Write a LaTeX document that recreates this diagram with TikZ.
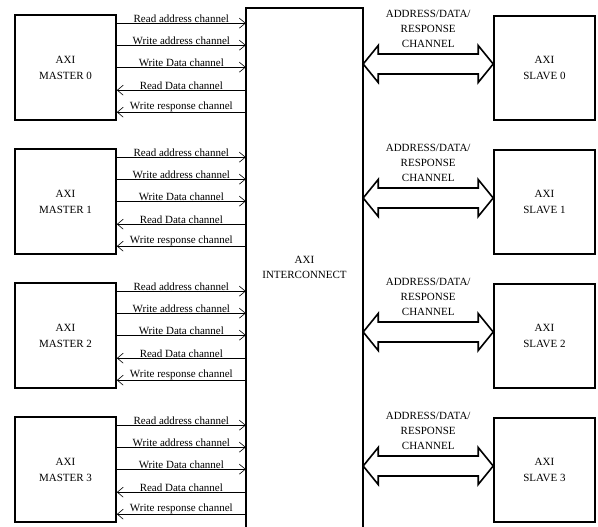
\documentclass[tikz,border=0pt]{standalone}
\usepackage{fontspec}
\setmainfont{Liberation Serif}
\usetikzlibrary{
    arrows.meta,
    calc,
    positioning
}

\tikzset{
    unit/.style={draw, line width=1.6pt, minimum width=101pt, minimum height=105pt,
        inner sep=0pt, align=center, font=\fontsize{11}{16}\selectfont},
    chan/.style={line width=0.6pt},
    chanlabel/.style={above, inner sep=0.5pt, font=\fontsize{11}{13}\selectfont},
    fwd/.style={-{Straight Barb[length=6pt,width=10pt]}},
    bwd/.style={{Straight Barb[length=6pt,width=10pt]}-},
    bus/.style={line width=1.6pt, line join=miter, fill=white},
    buslabel/.style={align=center, inner sep=0pt, font=\fontsize{11}{15}\selectfont}
}

\begin{document}
\begin{tikzpicture}[x=1pt, y=1pt]
    \useasboundingbox (0,0) rectangle (598,527);

    % interconnect, open at the bottom
    \node[minimum width=117pt, minimum height=519pt, inner sep=0pt, align=center,
        font=\fontsize{11}{15}\selectfont] (ic) at (304.5, 259.5) {AXI\\INTERCONNECT};
    \draw[line width=1.6pt] (ic.south west) -- (ic.north west) -- (ic.north east) -- (ic.south east);

    \foreach \i in {0,...,3} {
        \node[unit] (m\i) at (65.5, {459.5-134*\i}) {AXI\\MASTER \i};
        \node[unit, minimum height=104pt] (s\i) at (544.5, {459-134*\i}) {AXI\\SLAVE \i};

        % master channels
        \foreach \dy/\txt/\dir in {9/Read address channel/fwd,
                                   31/Write address channel/fwd,
                                   53/Write Data channel/fwd,
                                   76/Read Data channel/bwd,
                                   98/Write response channel/bwd} {
            \coordinate (c\i-\dy) at ([yshift=-\dy pt]m\i.north east);
            \draw[chan, \dir] (c\i-\dy) -- (c\i-\dy -| ic.west)
                node[midway, chanlabel] {\txt};
        }

        % slave bus
        \coordinate (b\i) at ([yshift=4pt]s\i.west);
        \coordinate (a\i) at (ic.east |- b\i);
        \draw[bus] (a\i) -- ++(15,18.5) -- ++(0,-8.5) -- ($(b\i)+(-15,10)$) -- ++(0,8.5)
            -- (b\i) -- ++(-15,-18.5) -- ++(0,8.5) -- ($(a\i)+(15,-10)$) -- ++(0,-8.5) -- cycle;
        \node[buslabel] (t\i) at ($(a\i)!0.5!(b\i)+(0,35)$) {ADDRESS/DATA/\\RESPONSE\\CHANNEL};
    }
\end{tikzpicture}
\end{document}
